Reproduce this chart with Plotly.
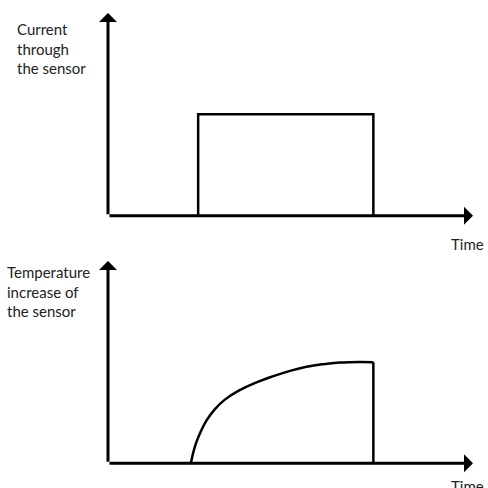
import plotly.graph_objects as go
from plotly.subplots import make_subplots

# Data (time in arbitrary units, values relative to axis length)
current_time = [2.47, 2.47, 7.27, 7.27]
current_value = [0, 0.5, 0.5, 0]

temp_time = [2.27, 2.38, 2.52, 2.70, 2.93, 3.21, 3.57, 4.07, 4.53, 4.99, 5.44, 5.90, 6.35, 6.63, 7.27]
temp_value = [0, 0.082, 0.148, 0.212, 0.268, 0.316, 0.358, 0.400, 0.431, 0.457, 0.477, 0.490, 0.498, 0.5, 0.5]

drop_time = [7.27, 7.27]
drop_value = [0.5, 0]

time_max = 10
value_max = 1

top_label = "Current<br>through<br>the sensor"
bottom_label = "Temperature<br>increase of<br>the sensor"
x_label = "Time"

W = 488
H = 488


def px_x(p):
    return p / W


def px_y(p):
    return 1 - p / H


fig = make_subplots(rows=2, cols=1)

line_style = dict(color="black", width=2.5)

fig.add_trace(go.Scatter(x=current_time, y=current_value, mode="lines",
                         line=line_style, showlegend=False), row=1, col=1)
fig.add_trace(go.Scatter(x=temp_time, y=temp_value, mode="lines",
                         line=dict(color="black", width=2.5, shape="spline", smoothing=1.3),
                         showlegend=False), row=2, col=1)
fig.add_trace(go.Scatter(x=drop_time, y=drop_value, mode="lines",
                         line=line_style, showlegend=False), row=2, col=1)

# axes positions in pixels
fig.update_layout(
    xaxis=dict(domain=[px_x(108), px_x(473)], range=[0, time_max], visible=False),
    yaxis=dict(domain=[px_y(215.7), px_y(13)], range=[0, value_max], visible=False),
    xaxis2=dict(domain=[px_x(108), px_x(473)], range=[0, time_max], visible=False),
    yaxis2=dict(domain=[px_y(463.3), px_y(261)], range=[0, value_max], visible=False),
)

# Axis arrows
arrows = []
for xr, yr in [("x", "y"), ("x2", "y2")]:
    arrows.append(dict(x=0, y=value_max, ax=0, ay=0, xref=xr, yref=yr,
                       axref=xr, ayref=yr, text="", showarrow=True,
                       arrowhead=1, arrowsize=1, arrowwidth=3,
                       arrowcolor="black", standoff=0))
    arrows.append(dict(x=time_max, y=0, ax=0, ay=0, xref=xr, yref=yr,
                       axref=xr, ayref=yr, text="", showarrow=True,
                       arrowhead=1, arrowsize=1, arrowwidth=3,
                       arrowcolor="black", standoff=0))

font = dict(family="Lato, Calibri, sans-serif", size=15, color="#222")
labels = [
    dict(x=px_x(15), y=px_y(48), text=top_label),
    dict(x=px_x(5), y=px_y(291), text=bottom_label),
    dict(x=px_x(449), y=px_y(244), text=x_label),
    dict(x=px_x(449), y=px_y(486), text=x_label),
]
for lb in labels:
    lb.update(xref="paper", yref="paper", xanchor="left", yanchor="middle",
              align="left", showarrow=False, font=font)

fig.update_layout(
    annotations=arrows + labels,
    width=W,
    height=H,
    margin=dict(l=0, r=0, t=0, b=0),
    paper_bgcolor="white",
    plot_bgcolor="white",
)

# drop the default page margin so the figure fills the window
fig.write_html("out.html", config={"displayModeBar": False},
               post_script="document.body.style.margin='0';")
